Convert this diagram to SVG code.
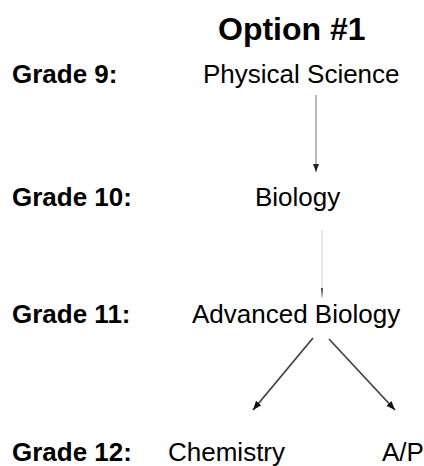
<svg xmlns="http://www.w3.org/2000/svg" width="424" height="466" viewBox="0 0 424 466">
  <defs>
    <style>
      .lbl { font-family: "Liberation Sans", Arial, sans-serif; font-size: 26px; font-weight: bold; fill: #000; }
      .crs { font-family: "Liberation Sans", Arial, sans-serif; font-size: 26px; fill: #000; }
      .ttl { font-family: "Liberation Sans", Arial, sans-serif; font-size: 32px; font-weight: bold; fill: #000; }
    </style>
    <marker id="ahSmall" markerUnits="userSpaceOnUse" markerWidth="8" markerHeight="10" refX="8" refY="3" orient="auto">
      <path d="M0,0 L8,3 L0,6 Z" fill="#222"/>
    </marker>
    <marker id="ahTiny" markerUnits="userSpaceOnUse" markerWidth="10" markerHeight="4" refX="10" refY="1.2" orient="auto">
      <path d="M0,0 L10,1.2 L0,2.4 Z" fill="#555"/>
    </marker>
    <marker id="ahDiag" markerUnits="userSpaceOnUse" markerWidth="10" markerHeight="10" refX="9" refY="3.5" orient="auto">
      <path d="M0,0 L9,3.5 L0,7 Z" fill="#111"/>
    </marker>
  </defs>

  <text class="ttl" x="218" y="40">Option #1</text>

  <g id="grade9">
    <text class="lbl" x="12" y="83">Grade 9:</text>
  </g>
  <g id="physical-science">
    <text class="crs" x="203" y="83">Physical Science</text>
  </g>

  <g id="grade10">
    <text class="lbl" x="12" y="206">Grade 10:</text>
  </g>
  <g id="biology">
    <text class="crs" x="255" y="206">Biology</text>
  </g>

  <g id="grade11">
    <text class="lbl" x="12" y="323">Grade 11:</text>
  </g>
  <g id="advanced-biology">
    <text class="crs" x="192" y="323">Advanced Biology</text>
  </g>

  <g id="grade12">
    <text class="lbl" x="12" y="461">Grade 12:</text>
  </g>
  <g id="chemistry">
    <text class="crs" x="168" y="461">Chemistry</text>
  </g>
  <g id="ap">
    <text class="crs" x="382" y="461">A/P</text>
  </g>

  <g id="connectors" fill="none">
    <line x1="316" y1="95" x2="316" y2="172" stroke="#8a8a8a" stroke-width="1.2" marker-end="url(#ahSmall)"/>
    <line x1="322" y1="230" x2="322" y2="298" stroke="#d0d0d0" stroke-width="1" marker-end="url(#ahTiny)"/>
    <line x1="313" y1="338" x2="253" y2="410" stroke="#444" stroke-width="1.8" marker-end="url(#ahDiag)"/>
    <line x1="329" y1="339" x2="395" y2="410" stroke="#444" stroke-width="1.8" marker-end="url(#ahDiag)"/>
  </g>
</svg>
